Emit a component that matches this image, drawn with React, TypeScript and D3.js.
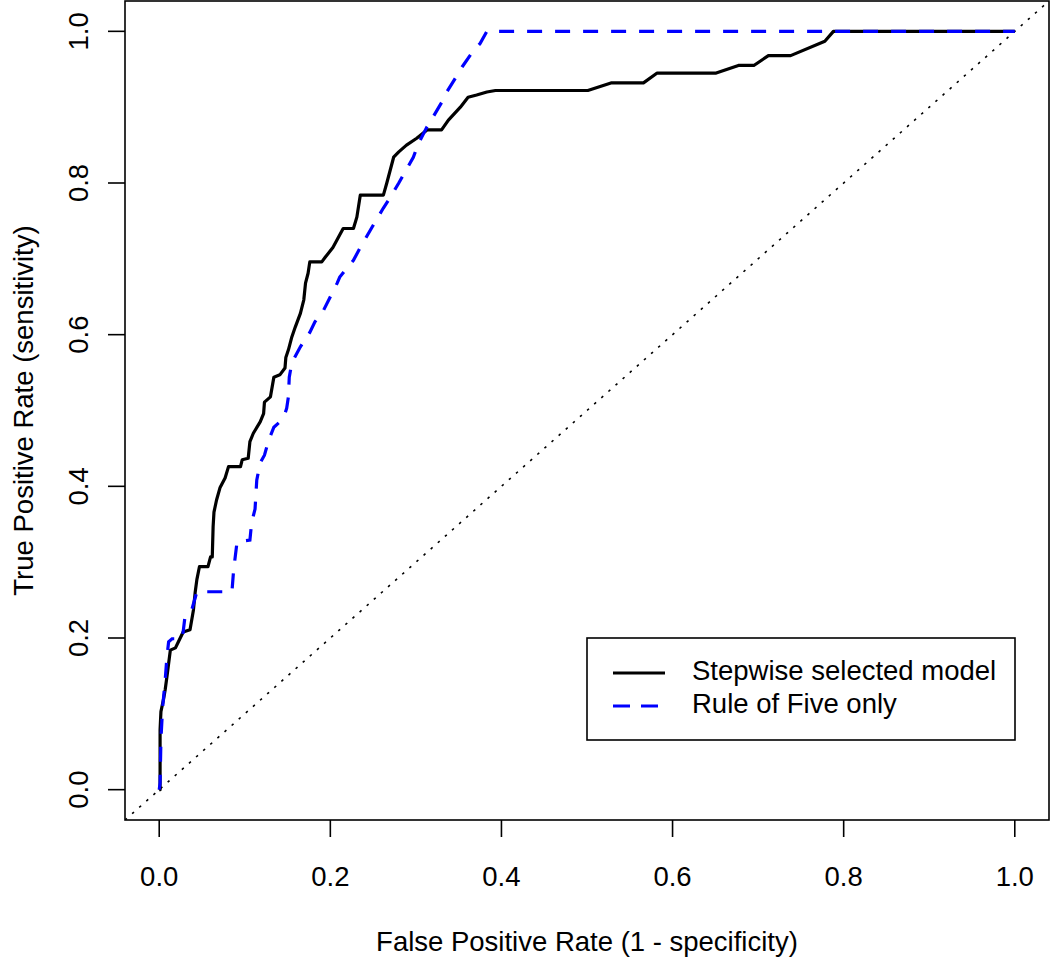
import React, { useEffect, useRef } from "react";
import { select, scaleLinear, line } from "d3";

// ROC curve points
const stepwiseFpr = [
  0, 0.001, 0.001, 0.002, 0.005, 0.007, 0.009, 0.013, 0.019, 0.022, 0.028, 0.036, 0.04, 0.042,
  0.044, 0.047, 0.057, 0.06, 0.062, 0.063, 0.064, 0.067, 0.071, 0.077, 0.081, 0.095, 0.097,
  0.104, 0.106, 0.11, 0.118, 0.122, 0.123, 0.13, 0.134, 0.141, 0.147, 0.148, 0.151, 0.155,
  0.159, 0.165, 0.169, 0.171, 0.174, 0.176, 0.19, 0.194, 0.203, 0.215, 0.227, 0.231, 0.235,
  0.262, 0.266, 0.274, 0.28, 0.289, 0.301, 0.313, 0.33, 0.338, 0.352, 0.361, 0.371, 0.383,
  0.393, 0.501, 0.528, 0.566, 0.582, 0.651, 0.677, 0.695, 0.712, 0.738, 0.778, 0.788, 1
];
const stepwiseTpr = [
  0, 0, 0.079, 0.103, 0.119, 0.132, 0.149, 0.184, 0.187, 0.194, 0.208, 0.211, 0.237, 0.26,
  0.277, 0.294, 0.294, 0.307, 0.307, 0.347, 0.366, 0.382, 0.398, 0.411, 0.426, 0.426, 0.435,
  0.437, 0.459, 0.47, 0.485, 0.496, 0.511, 0.518, 0.544, 0.547, 0.556, 0.57, 0.58, 0.597,
  0.61, 0.628, 0.646, 0.668, 0.681, 0.696, 0.696, 0.702, 0.715, 0.74, 0.74, 0.755, 0.784,
  0.784, 0.8, 0.834, 0.841, 0.85, 0.859, 0.87, 0.87, 0.883, 0.9, 0.913, 0.916, 0.92,
  0.922, 0.922, 0.932, 0.932, 0.945, 0.945, 0.955, 0.955, 0.968, 0.968, 0.987, 1, 1
];

const ruleFpr = [
  0, 0.001, 0.002, 0.004, 0.007, 0.009, 0.011, 0.015, 0.027, 0.03, 0.038, 0.044, 0.085, 0.087,
  0.091, 0.106, 0.108, 0.112, 0.114, 0.118, 0.123, 0.128, 0.134, 0.145, 0.149, 0.151, 0.152,
  0.155, 0.165, 0.176, 0.182, 0.192, 0.2, 0.208, 0.211, 0.227, 0.235, 0.252, 0.262, 0.27,
  0.28, 0.287, 0.297, 0.303, 0.313, 0.32, 0.33, 0.336, 0.346, 0.354, 0.365, 0.375, 0.383, 1
];
const ruleTpr = [
  0, 0.009, 0.066, 0.109, 0.145, 0.175, 0.195, 0.199, 0.199, 0.227, 0.237, 0.261, 0.261, 0.29,
  0.327, 0.329, 0.352, 0.37, 0.408, 0.431, 0.441, 0.461, 0.478, 0.489, 0.503, 0.518, 0.544,
  0.563, 0.584, 0.603, 0.617, 0.632, 0.65, 0.668, 0.676, 0.698, 0.715, 0.748, 0.767, 0.781,
  0.8, 0.814, 0.834, 0.852, 0.874, 0.887, 0.906, 0.92, 0.938, 0.953, 0.971, 0.984, 1, 1
];

const xTicks = [0, 0.2, 0.4, 0.6, 0.8, 1.0];
const yTicks = [0, 0.2, 0.4, 0.6, 0.8, 1.0];
const legendLabels = ["Stepwise selected model", "Rule of Five only"];

const FONT = "'Liberation Sans', Arial, sans-serif";

const App = () => {
  const svgRef = useRef<SVGSVGElement>(null);

  useEffect(() => {
    const svg = select(svgRef.current);
    svg.selectAll("*").remove();

    // plot region (R style: data range padded by 4%)
    const left = 125, right = 1049, top = 1, bottom = 820;
    const x = scaleLinear().domain([-0.04, 1.04]).range([left, right]);
    const y = scaleLinear().domain([-0.04, 1.04]).range([bottom, top]);

    svg.append("defs").append("clipPath").attr("id", "plotclip")
      .append("rect")
      .attr("x", left).attr("y", top)
      .attr("width", right - left).attr("height", bottom - top);

    const plot = svg.append("g").attr("clip-path", "url(#plotclip)");

    // chance diagonal
    plot.append("line")
      .attr("x1", x(-0.04)).attr("y1", y(-0.04))
      .attr("x2", x(1.04)).attr("y2", y(1.04))
      .attr("stroke", "#000")
      .attr("stroke-width", 1.6)
      .attr("stroke-dasharray", "2.5,7");

    const path = (xs: number[], ys: number[]) =>
      line<number>()
        .x((d) => x(d))
        .y((d, i) => y(ys[i]))(xs);

    plot.append("path")
      .attr("d", path(stepwiseFpr, stepwiseTpr))
      .attr("fill", "none")
      .attr("stroke", "#000")
      .attr("stroke-width", 3.2)
      .attr("stroke-linejoin", "round");

    plot.append("path")
      .attr("d", path(ruleFpr, ruleTpr))
      .attr("fill", "none")
      .attr("stroke", "#0000ff")
      .attr("stroke-width", 3.2)
      .attr("stroke-dasharray", "15,13");

    // frame
    svg.append("rect")
      .attr("x", left).attr("y", top)
      .attr("width", right - left).attr("height", bottom - top)
      .attr("fill", "none")
      .attr("stroke", "#000")
      .attr("stroke-width", 1.6);

    // x axis
    const xa = svg.append("g");
    xTicks.forEach((t) => {
      xa.append("line")
        .attr("x1", x(t)).attr("x2", x(t))
        .attr("y1", bottom).attr("y2", bottom + 17)
        .attr("stroke", "#000").attr("stroke-width", 1.6);
      xa.append("text")
        .attr("x", x(t)).attr("y", 886)
        .attr("text-anchor", "middle")
        .attr("font-family", FONT).attr("font-size", 27.5)
        .attr("fill", "#000")
        .text(t.toFixed(1));
    });

    // y axis
    const ya = svg.append("g");
    yTicks.forEach((t) => {
      ya.append("line")
        .attr("x1", left - 17).attr("x2", left)
        .attr("y1", y(t)).attr("y2", y(t))
        .attr("stroke", "#000").attr("stroke-width", 1.6);
      ya.append("text")
        .attr("transform", `translate(88, ${y(t)}) rotate(-90)`)
        .attr("text-anchor", "middle")
        .attr("font-family", FONT).attr("font-size", 27.5)
        .attr("fill", "#000")
        .text(t.toFixed(1));
    });

    // axis titles
    svg.append("text")
      .attr("x", (left + right) / 2).attr("y", 951)
      .attr("text-anchor", "middle")
      .attr("font-family", FONT).attr("font-size", 27.5)
      .text("False Positive Rate (1 - specificity)");

    svg.append("text")
      .attr("transform", `translate(33, ${(top + bottom) / 2}) rotate(-90)`)
      .attr("text-anchor", "middle")
      .attr("font-family", FONT).attr("font-size", 27.5)
      .text("True Positive Rate (sensitivity)");

    // legend
    const lg = svg.append("g");
    lg.append("rect")
      .attr("x", 587).attr("y", 638)
      .attr("width", 428).attr("height", 102)
      .attr("fill", "#fff")
      .attr("stroke", "#000").attr("stroke-width", 1.6);

    const legendStyles = [
      { color: "#000", dash: null as string | null },
      { color: "#0000ff", dash: "17,11" }
    ];
    legendLabels.forEach((label, i) => {
      const cy = 673 + i * 33;
      const l = lg.append("line")
        .attr("x1", 613).attr("x2", 665)
        .attr("y1", cy).attr("y2", cy)
        .attr("stroke", legendStyles[i].color)
        .attr("stroke-width", 3.2);
      if (legendStyles[i].dash) l.attr("stroke-dasharray", legendStyles[i].dash);
      lg.append("text")
        .attr("x", 692).attr("y", cy + 6.5)
        .attr("font-family", FONT).attr("font-size", 27.5)
        .attr("fill", "#000")
        .text(label);
    });
  }, []);

  return (
    <svg
      ref={svgRef}
      width={1050}
      height={959}
      style={{ position: "absolute", left: 0, top: 0, background: "#fff" }}
    />
  );
};

export default App;
